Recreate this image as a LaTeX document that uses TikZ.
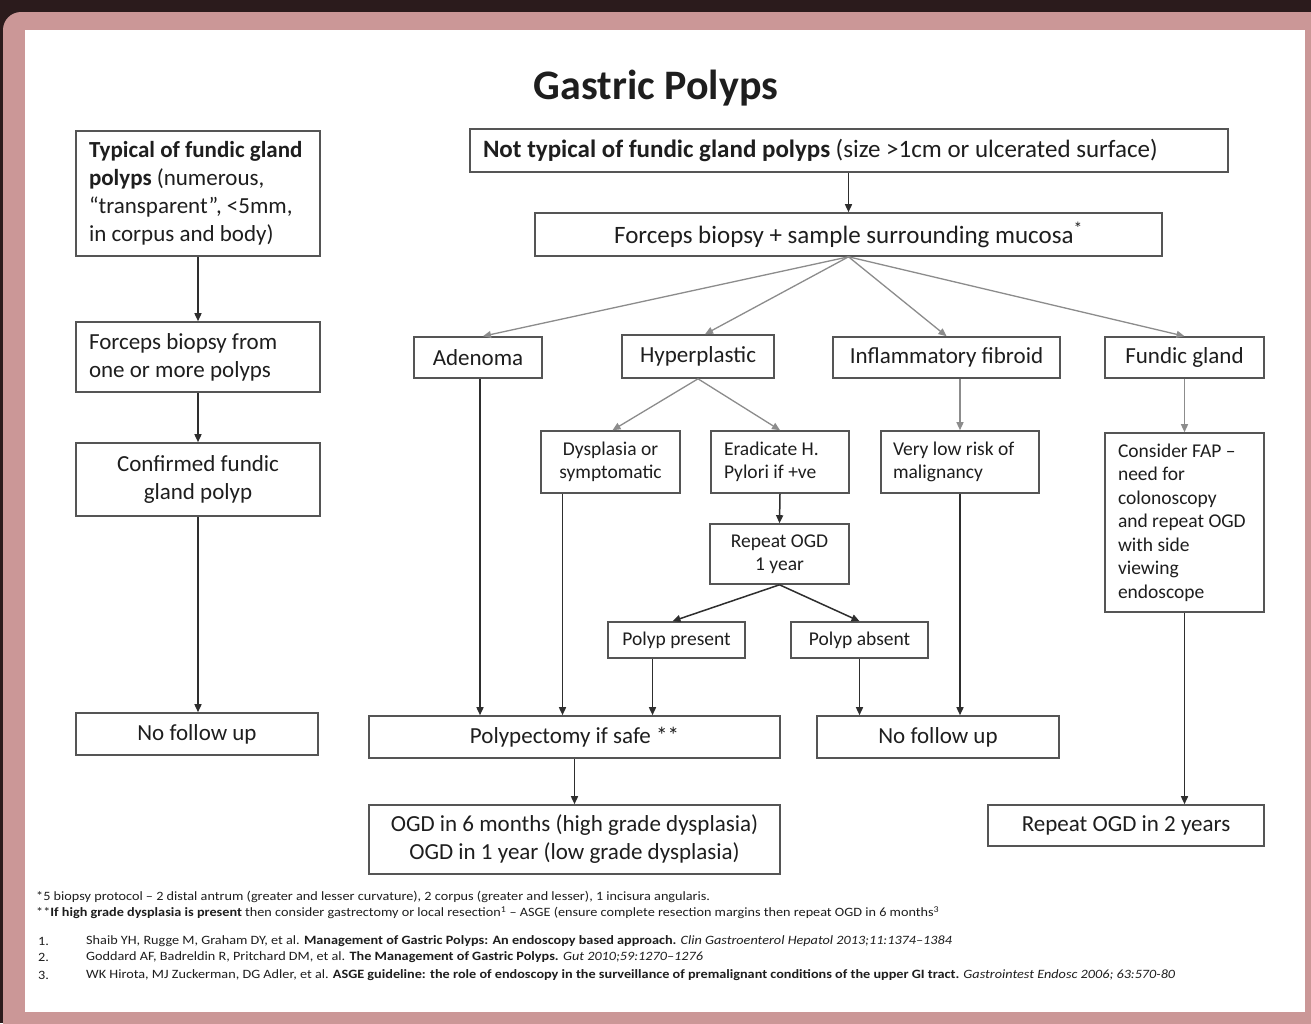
\documentclass[tikz,border=0pt]{standalone}
\usepackage{fontspec}
\setmainfont{Carlito}
\newfontfamily\notefont{Carlito}[FakeStretch=1.12]
\usetikzlibrary{arrows.meta}
\definecolor{bgdark}{HTML}{2B1B1C}
\definecolor{framepink}{HTML}{CB9797}
\definecolor{boxline}{HTML}{555555}
\definecolor{fanline}{HTML}{8C8C8C}
\definecolor{arrline}{HTML}{2E2E2E}
\definecolor{txt}{HTML}{1E1E1E}
\newcommand\fsz[2]{\fontsize{#1}{#2}\selectfont}
\newcommand\bx[7]{\node[#6, minimum width={#4-#2}, minimum height={#5-#3}] (#1) at ({(#2+#4)/2},{(#3+#5)/2}) {#7};}
\newcommand\bxl[8]{\bx{#1}{#2}{#3}{#4}{#5}{#6}{}\node[#6, draw=none, minimum width=0pt, minimum height=0pt, anchor=west, align=left] (#1t) at ([xshift=#7pt]#1.west) {#8};}
\begin{document}
\begin{tikzpicture}[x=1pt,y=-1pt,
  box/.style={draw=boxline, line width=1.6pt, inner sep=0pt, text=txt, align=center, font=\fsz{23}{28}},
  bbox/.style={box, font=\fsz{25}{30}},
  sbox/.style={box, font=\fsz{19.5}{23.5}},
  arr/.style={-{Triangle[length=8pt,width=7pt]}, line width=1.5pt, draw=arrline},
  fan/.style={-{Triangle[length=8pt,width=7pt]}, line width=1.3pt, draw=fanline},
  note/.style={anchor=west, inner sep=0pt, text=txt, font=\notefont\fsz{12.7}{15}}]
\useasboundingbox (0,0) rectangle (1311,1023);
% frame
\fill[bgdark] (0,0) rectangle (1311,1023);
\fill[framepink, rounded corners=18pt] (3,12) rectangle (1340,1050);
\fill[white] (25,30) rectangle (1305,1012);
% title
\node[font=\fsz{42}{48}\bfseries, text=txt, inner sep=0pt] (title) at (656,88) {Gastric Polyps};
% left column
\bxl{L1}{76}{131}{320}{256}{box}{13}{\textbf{Typical of fundic gland}\\\textbf{polyps} (numerous,\\“transparent”, <5mm,\\in corpus and body)}
\bxl{L2}{76}{322}{320}{392}{box}{13}{Forceps biopsy from\\one or more polyps}
\bx{L3}{76}{443}{320}{516}{box}{Confirmed fundic\\gland polyp}
\bx{L4}{76}{713}{318}{755}{box}{No follow up}
% right part
\bxl{T}{470}{129}{1228}{172}{bbox}{13}{\textbf{Not typical of fundic gland polyps} (size >1cm or ulcerated surface)}
\bx{F}{535}{213}{1162}{256}{bbox}{Forceps biopsy + sample surrounding mucosa\textsuperscript{*}}
\bx{A}{414}{337}{542}{378}{box}{Adenoma}
\bx{H}{622}{335}{774}{378}{box}{Hyperplastic}
\bx{I}{833}{337}{1060}{378}{box}{Inflammatory fibroid}
\bx{G}{1105}{337}{1264}{378}{box}{Fundic gland}
\bx{D}{541}{431}{680}{493}{sbox}{Dysplasia or\\symptomatic}
\bxl{E}{711}{431}{849}{493}{sbox}{13}{Eradicate H.\\Pylori if +ve}
\bxl{V}{881}{431}{1039}{493}{sbox}{12}{Very low risk of\\malignancy}
\bxl{P}{1105}{433}{1264}{612}{sbox}{13}{Consider FAP –\\need for\\colonoscopy\\and repeat OGD\\with side\\viewing\\endoscope}
\bx{R}{710}{524}{849}{584}{sbox}{Repeat OGD\\1 year}
\bx{PP}{608}{622}{745}{658}{sbox}{Polyp present}
\bx{PA}{791}{622}{928}{658}{sbox}{Polyp absent}
\bx{PS}{369}{716}{780}{758}{box}{Polypectomy if safe **}
\bx{NF}{817}{716}{1059}{758}{box}{No follow up}
\bx{O}{369}{805}{780}{874}{box}{OGD in 6 months (high grade dysplasia)\\OGD in 1 year (low grade dysplasia)}
\bx{RO}{988}{805}{1264}{846}{box}{Repeat OGD in 2 years}
% connectors left
\draw[arr] (L1.south) -- (L2.north);
\draw[arr] (L2.south) -- (L3.north);
\draw[arr] (L3.south) -- (L3.south |- L4.north);
% connectors right
\draw[arr] (F.north |- T.south) -- (F.north);
\draw[fan] (F.south) -- ([xshift=5pt]A.north);
\draw[fan] (F.south) -- ([xshift=7pt]H.north);
\draw[fan] (F.south) -- (I.north);
\draw[fan] (F.south) -- (G.north);
\draw[fan] (H.south) -- ([xshift=2pt]D.north);
\draw[fan] (H.south) -- (E.north);
\draw[fan] (V.north |- I.south) -- (V.north);
\draw[fan] (G.south) -- (P.north);
\draw[arr] (E.south) -- (R.north);
\draw[arr] (R.south) -- ([xshift=-4pt]PP.north);
\draw[arr] (R.south) -- (PA.north);
\coordinate (a1) at ([xshift=2pt]A.south);
\draw[arr] (a1) -- (a1 |- PS.north);
\coordinate (d1) at ([xshift=-48pt]D.south);
\draw[arr] (d1) -- (d1 |- PS.north);
\coordinate (pp1) at ([xshift=-24pt]PP.south);
\draw[arr] (pp1) -- (pp1 |- PS.north);
\draw[arr] (PA.south) -- (PA.south |- NF.north);
\draw[arr] (V.south) -- (V.south |- NF.north);
\draw[arr] (P.south) -- (P.south |- RO.north);
\draw[arr] (PS.south) -- (O.north);
% notes
\node[note] (n1) at (36,897) {*5 biopsy protocol – 2 distal antrum (greater and lesser curvature), 2 corpus (greater and lesser), 1 incisura angularis.};
\node[note] (n2) at (36,913) {**\textbf{If high grade dysplasia is present} then consider gastrectomy or local resection\textsuperscript{1} – ASGE (ensure complete resection margins then repeat OGD in 6 months\textsuperscript{3}};
\node[note] (r1n) at (38,941) {1.};
\node[note] (r2n) at (38,957) {2.};
\node[note] (r3n) at (38,975) {3.};
\node[note] (r1) at (86,941) {Shaib YH, Rugge M, Graham DY, et al. \textbf{Management of Gastric Polyps: An endoscopy based approach.} \textit{Clin Gastroenterol Hepatol 2013;11:1374–1384}};
\node[note] (r2) at (86,957) {Goddard AF, Badreldin R, Pritchard DM, et al. \textbf{The Management of Gastric Polyps.} \textit{Gut 2010;59:1270–1276}};
\node[note] (r3) at (86,975) {WK Hirota, MJ Zuckerman, DG Adler, et al. \textbf{ASGE guideline: the role of endoscopy in the surveillance of premalignant conditions of the upper GI tract.} \textit{Gastrointest Endosc 2006; 63:570-80}};
\end{tikzpicture}
\end{document}
